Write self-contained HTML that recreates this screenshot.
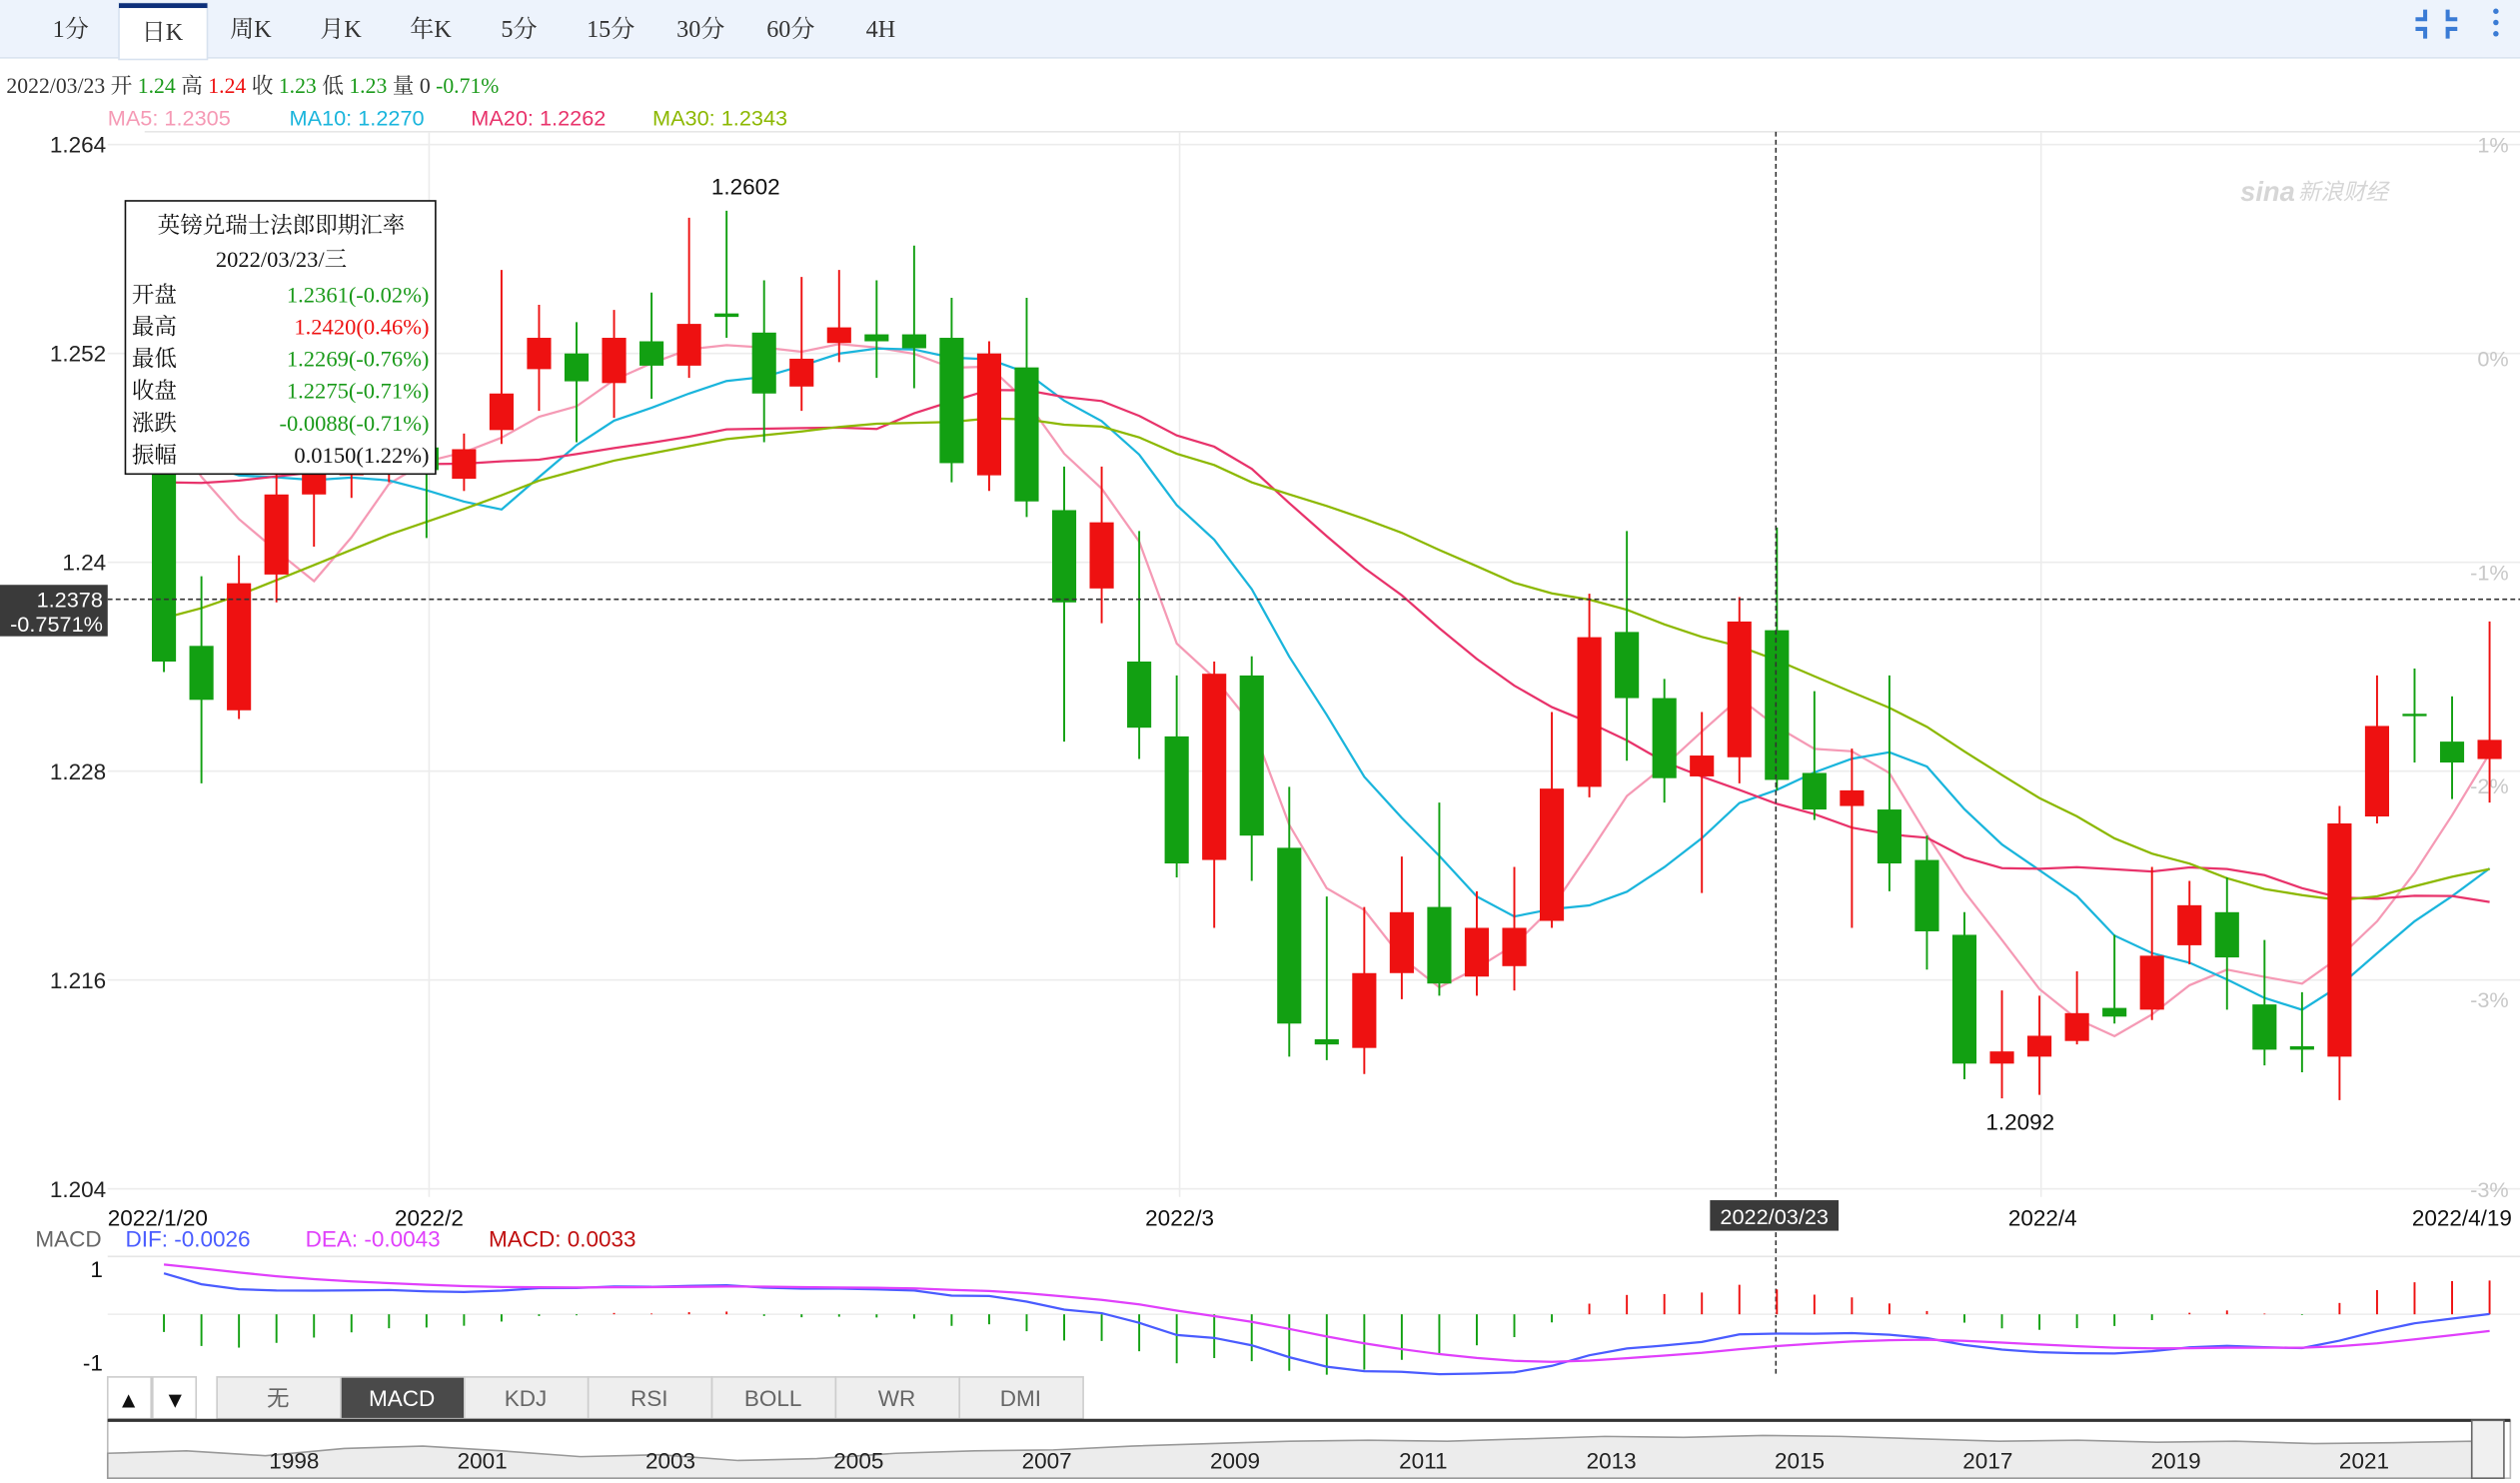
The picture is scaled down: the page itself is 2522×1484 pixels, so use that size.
<!DOCTYPE html>
<html><head><meta charset="utf-8"><style>
html,body{margin:0;padding:0;background:#fff;overflow:hidden}
svg{display:block}
text{font-family:"Liberation Sans","Noto Sans CJK SC",sans-serif}
.serif{font-family:"Liberation Serif","Noto Serif CJK SC","Noto Sans CJK SC",serif}
</style></head><body>
<svg id="chart" width="2522" height="1484" viewBox="0 0 1568 923" preserveAspectRatio="none" xmlns="http://www.w3.org/2000/svg">
<rect x="0" y="0" width="1568" height="923" fill="#fff"/>
<g>
<rect x="0" y="0" width="1568" height="36" fill="#edf3fc"/>
<line x1="0" y1="36" x2="1568" y2="36" stroke="#d8e2ef"/>
<rect x="74" y="2" width="55" height="35" fill="#fff" stroke="#d8e2ef"/>
<rect x="74" y="2" width="55" height="3" fill="#0c2f7a"/>
<g class="serif" font-size="15" fill="#333" text-anchor="middle">
<text x="44" y="23" class="serif">1分</text>
<text x="101" y="25" class="serif">日K</text>
<text x="156" y="23" class="serif">周K</text>
<text x="212" y="23" class="serif">月K</text>
<text x="268" y="23" class="serif">年K</text>
<text x="323" y="23" class="serif">5分</text>
<text x="380" y="23" class="serif">15分</text>
<text x="436" y="23" class="serif">30分</text>
<text x="492" y="23" class="serif">60分</text>
<text x="548" y="23" class="serif">4H</text>
</g>
<g stroke="#3a7bd5" stroke-width="2.5" fill="none">
<path d="M1509 6 v6 h-6 M1523 6 v6 h6 M1509 24 v-6 h-6 M1523 24 v-6 h6"/>
</g>
<g fill="#3a7bd5"><circle cx="1553" cy="7" r="1.7"/><circle cx="1553" cy="14" r="1.7"/><circle cx="1553" cy="21" r="1.7"/></g>
</g>
<text x="4" y="58" font-size="13.5" fill="#333" class="serif">2022/03/23 开 <tspan fill="#1a9a1a">1.24</tspan> 高 <tspan fill="#ee1111">1.24</tspan> 收 <tspan fill="#1a9a1a">1.23</tspan> 低 <tspan fill="#1a9a1a">1.23</tspan> 量 0 <tspan fill="#1a9a1a">-0.71%</tspan></text>
<g font-size="13.5">
<text x="67" y="78" fill="#f59ab5">MA5: 1.2305</text>
<text x="180" y="78" fill="#1ab5dc">MA10: 1.2270</text>
<text x="293" y="78" fill="#e8336b">MA20: 1.2262</text>
<text x="406" y="78" fill="#8cb800">MA30: 1.2343</text>
</g>
<line x1="90" y1="82" x2="1568" y2="82" stroke="#e6e6e6"/>
<g id="grid"></g>
<g id="yaxis"></g>
<g id="pctaxis"></g>
<g fill="#d6d6d6">
<text x="1394" y="125" font-size="17" font-style="italic" font-weight="bold">sina</text>
<text x="1430" y="124" font-size="14" font-style="italic">新浪财经</text>
</g>
<g id="mas"></g>
<g id="candles"></g>
<text x="464" y="121" font-size="14" fill="#111" text-anchor="middle">1.2602</text>
<text x="1257" y="703" font-size="14" fill="#111" text-anchor="middle">1.2092</text>
<g>
<line x1="67" y1="373" x2="1568" y2="373" stroke="#333" stroke-dasharray="3,2"/>
<line x1="1105" y1="82" x2="1105" y2="856" stroke="#333" stroke-dasharray="3,2"/>
<rect x="0" y="364" width="67" height="32" fill="#3a3a3a"/>
<text x="64" y="378" font-size="13.5" fill="#fff" text-anchor="end">1.2378</text>
<text x="64" y="393" font-size="13.5" fill="#fff" text-anchor="end">-0.7571%</text>
<rect x="1064" y="747" width="80" height="19" fill="#3a3a3a"/>
<text x="1104" y="762" font-size="13.5" fill="#fff" text-anchor="middle">2022/03/23</text>
</g>
<g class="serif" font-size="14">
<rect x="78" y="125" width="193" height="170" fill="#fff" stroke="#111"/>
<text x="175" y="145" text-anchor="middle" fill="#111" class="serif">英镑兑瑞士法郎即期汇率</text>
<text x="175" y="166" text-anchor="middle" fill="#111" class="serif">2022/03/23/三</text>
<text x="82" y="188" fill="#111" class="serif">开盘</text><text x="267" y="188" text-anchor="end" fill="#1a9a1a" class="serif">1.2361(-0.02%)</text>
<text x="82" y="208" fill="#111" class="serif">最高</text><text x="267" y="208" text-anchor="end" fill="#ee1111" class="serif">1.2420(0.46%)</text>
<text x="82" y="228" fill="#111" class="serif">最低</text><text x="267" y="228" text-anchor="end" fill="#1a9a1a" class="serif">1.2269(-0.76%)</text>
<text x="82" y="248" fill="#111" class="serif">收盘</text><text x="267" y="248" text-anchor="end" fill="#1a9a1a" class="serif">1.2275(-0.71%)</text>
<text x="82" y="268" fill="#111" class="serif">涨跌</text><text x="267" y="268" text-anchor="end" fill="#1a9a1a" class="serif">-0.0088(-0.71%)</text>
<text x="82" y="288" fill="#111" class="serif">振幅</text><text x="267" y="288" text-anchor="end" fill="#111" class="serif">0.0150(1.22%)</text>
</g>
<g font-size="14" fill="#111">
<text x="67" y="763">2022/1/20</text>
<text x="267" y="763" text-anchor="middle">2022/2</text>
<text x="734" y="763" text-anchor="middle">2022/3</text>
<text x="1271" y="763" text-anchor="middle">2022/4</text>
<text x="1563" y="763" text-anchor="end">2022/4/19</text>
</g>
<g font-size="14">
<text x="22" y="776" fill="#666">MACD</text>
<text x="78" y="776" fill="#4a5cff">DIF: -0.0026</text>
<text x="190" y="776" fill="#e040fb">DEA: -0.0043</text>
<text x="304" y="776" fill="#c01010">MACD: 0.0033</text>
</g>
<line x1="67" y1="782" x2="1568" y2="782" stroke="#e6e6e6"/>
<line x1="67" y1="818" x2="1568" y2="818" stroke="#eee"/>
<text x="64" y="795" font-size="14" fill="#111" text-anchor="end">1</text>
<text x="64" y="853" font-size="14" fill="#111" text-anchor="end">-1</text>
<g id="macd"></g>
<g class="serif" font-size="14">
<rect x="67" y="857" width="1501" height="26" fill="#fff"/>
<rect x="67" y="857" width="27" height="26" fill="#fff" stroke="#ccc"/>
<text x="80" y="876" text-anchor="middle" fill="#111">▲</text>
<rect x="95" y="857" width="27" height="26" fill="#fff" stroke="#ccc"/>
<text x="109" y="876" text-anchor="middle" fill="#111">▼</text>
<rect x="135" y="857" width="77" height="26" fill="#eee" stroke="#ccc"/><text x="173" y="875" text-anchor="middle" fill="#666">无</text>
<rect x="212" y="857" width="77" height="26" fill="#4a4a4a" stroke="#ccc"/><text x="250" y="875" text-anchor="middle" fill="#fff">MACD</text>
<rect x="289" y="857" width="77" height="26" fill="#eee" stroke="#ccc"/><text x="327" y="875" text-anchor="middle" fill="#666">KDJ</text>
<rect x="366" y="857" width="77" height="26" fill="#eee" stroke="#ccc"/><text x="404" y="875" text-anchor="middle" fill="#666">RSI</text>
<rect x="443" y="857" width="77" height="26" fill="#eee" stroke="#ccc"/><text x="481" y="875" text-anchor="middle" fill="#666">BOLL</text>
<rect x="520" y="857" width="77" height="26" fill="#eee" stroke="#ccc"/><text x="558" y="875" text-anchor="middle" fill="#666">WR</text>
<rect x="597" y="857" width="77" height="26" fill="#eee" stroke="#ccc"/><text x="635" y="875" text-anchor="middle" fill="#666">DMI</text>
</g>
<g>
<rect x="67" y="884" width="1495" height="36" fill="#fff" stroke="#bbb"/>
<line x1="67" y1="884" x2="1562" y2="884" stroke="#333" stroke-width="2"/>
<path id="navpath" fill="#ececec" stroke="#999" stroke-width="1"/>
<rect x="1538" y="884" width="20" height="36" fill="#f0f0f0" stroke="#666"/>
<g font-size="14" fill="#222" text-anchor="middle" id="navyears"></g>
</g>
</svg>
<script>
var preCloses = [1.2150,1.2165,1.2180,1.2195,1.2205,1.2215,1.2230,1.2245,1.2260,1.2275,
 1.2330,1.2360,1.2390,1.2410,1.2420,1.2430,1.2450,1.2460,1.2470,1.2510,
 1.2440,1.2460,1.2450,1.2470,1.2455,1.2490,1.2510,1.2530,1.2542];
var opens = [1.2455,1.2352,1.2315,1.2393,1.2439,1.2450,1.2460,1.2466,1.2448,1.2476,1.2511,1.2520,1.2503,1.2527,1.2513,1.2543,1.2532,1.2501,1.2526,1.2531,1.2531,1.2529,1.2450,1.2512,1.2430,1.2385,1.2343,1.2300,1.2229,1.2335,1.2236,1.2126,1.2121,1.2164,1.2202,1.2162,1.2168,1.2194,1.2271,1.2360,1.2322,1.2277,1.2288,1.2361,1.2279,1.2260,1.2258,1.2229,1.2186,1.2112,1.2116,1.2125,1.2144,1.2143,1.2180,1.2199,1.2146,1.2122,1.2116,1.2254,1.2313,1.2297,1.2287];
var highs = [1.2487,1.2392,1.2404,1.2455,1.2469,1.2481,1.2485,1.2476,1.2474,1.2568,1.2548,1.2538,1.2545,1.2555,1.2598,1.2602,1.2562,1.2564,1.2568,1.2562,1.2582,1.2552,1.2527,1.2552,1.2455,1.2455,1.2418,1.2335,1.2343,1.2346,1.2271,1.2208,1.2202,1.2231,1.2262,1.2211,1.2225,1.2314,1.2382,1.2418,1.2333,1.2314,1.2380,1.2420,1.2326,1.2293,1.2335,1.2243,1.2199,1.2154,1.2151,1.2165,1.2186,1.2225,1.2217,1.2219,1.2183,1.2153,1.2260,1.2335,1.2339,1.2323,1.2366];
var lows = [1.2337,1.2273,1.2310,1.2377,1.2409,1.2437,1.2446,1.2414,1.2441,1.2468,1.2487,1.2469,1.2483,1.2494,1.2506,1.2529,1.2469,1.2487,1.2515,1.2506,1.2500,1.2446,1.2441,1.2426,1.2297,1.2365,1.2287,1.2219,1.2190,1.2217,1.2116,1.2114,1.2106,1.2149,1.2151,1.2151,1.2154,1.2190,1.2265,1.2286,1.2262,1.2210,1.2273,1.2269,1.2252,1.2190,1.2211,1.2166,1.2103,1.2092,1.2094,1.2123,1.2135,1.2137,1.2169,1.2143,1.2111,1.2107,1.2091,1.2250,1.2285,1.2264,1.2262];
var closes = [1.2343,1.2321,1.2388,1.2439,1.2455,1.2469,1.2474,1.2453,1.2465,1.2497,1.2529,1.2504,1.2529,1.2513,1.2537,1.2541,1.2497,1.2517,1.2535,1.2527,1.2523,1.2457,1.2520,1.2435,1.2377,1.2423,1.2305,1.2227,1.2336,1.2243,1.2135,1.2123,1.2164,1.2199,1.2158,1.2190,1.2190,1.2270,1.2357,1.2322,1.2276,1.2289,1.2366,1.2275,1.2258,1.2269,1.2227,1.2188,1.2112,1.2119,1.2128,1.2141,1.2139,1.2174,1.2203,1.2173,1.2120,1.2120,1.2250,1.2306,1.2312,1.2285,1.2298];
var priceTicks = [1.264,1.252,1.24,1.228,1.216,1.204];
var pctTicks = ["1%","0%","-1%","-2%","-3%"];
var navYears = ["1998","2001","2003","2005","2007","2009","2011","2013","2015","2017","2019","2021"];
var navValues = [0.55,0.5,0.6,0.45,0.4,0.5,0.62,0.58,0.7,0.66,0.55,0.5,0.48,0.4,0.35,0.3,0.28,0.3,0.25,0.2,0.22,0.18,0.2,0.25,0.3,0.28,0.32,0.3,0.35,0.33,0.3];

var NS="http://www.w3.org/2000/svg";
function el(tag, attrs, parent){var e=document.createElementNS(NS,tag);for(var k in attrs)e.setAttribute(k,attrs[k]);parent.appendChild(e);return e;}
function yP(v){return 90+(1.264-v)*10833;}
function xI(i){return 102+i*23.34;}
var MZ=818, MK=4600;
function yM(v){return MZ-v*MK;}

var grid=document.getElementById('grid');
[267,734,1270].forEach(function(x){var l=el('line',{x1:x,y1:82,x2:x,y2:745,stroke:'#ececec'},grid);

});
var ya=document.getElementById('yaxis');
priceTicks.forEach(function(v){
 var y=yP(v);
 var g=el('line',{x1:67,y1:y,x2:1568,y2:y,stroke:'#ececec'},grid);
 
 
 var t=el('text',{x:66,y:y+5,'font-size':14,fill:'#222','text-anchor':'end'},ya);t.textContent=String(v);
 
 
});
var pa=document.getElementById('pctaxis');
pctTicks.forEach(function(s,i){
 var t=el('text',{x:1561,y:95+i*133,'font-size':13.5,fill:'#c8c8c8','text-anchor':'end'},pa);t.textContent=s;
 
 
});
var tl=el('text',{x:1561,y:745,'font-size':13.5,fill:'#c8c8c8','text-anchor':'end'},pa);tl.textContent="-3%";



var all=preCloses.concat(closes), P=preCloses.length;
function ma(n){var out=[];for(var i=0;i<closes.length;i++){var s=0;for(var j=0;j<n;j++)s+=all[P+i-j];out.push(s/n);}return out;}
var mg=document.getElementById('mas');
[[5,'#f59ab5','ma5-line'],[10,'#1ab5dc','ma10-line'],[20,'#e8336b','ma20-line'],[30,'#8cb800','ma30-line']].forEach(function(c){
 var m=ma(c[0]);var d=m.map(function(v,i){return (i?'L':'M')+xI(i).toFixed(1)+' '+yP(v).toFixed(1);}).join(' ');
 var p=el('path',{d:d,fill:'none',stroke:c[1],'stroke-width':1.4},mg);
 
 
});

var cg=document.getElementById('candles');
for(var i=0;i<closes.length;i++){
 var up=closes[i]>=opens[i], col=up?'#ee1111':'#12a012', cx=xI(i);
 var w=el('line',{x1:cx,y1:yP(highs[i]),x2:cx,y2:yP(lows[i]),stroke:col,'stroke-width':1.2},cg);
 
 
 var yt=yP(Math.max(opens[i],closes[i])), yb=yP(Math.min(opens[i],closes[i]));
 var r=el('rect',{x:cx-7.5,y:yt,width:15,height:Math.max(1.5,yb-yt),fill:col},cg);
 
 
}

function ema(arr,n){var k=2/(n+1),o=[arr[0]];for(var i=1;i<arr.length;i++)o.push(arr[i]*k+o[i-1]*(1-k));return o;}
var e12=ema(all,12), e26=ema(all,26);
var dif=all.map(function(v,i){return e12[i]-e26[i];});
var dea=ema(dif,9);
var mgp=document.getElementById('macd');
for(var i=0;i<closes.length;i++){
 var h=2*(dif[P+i]-dea[P+i]), bx=xI(i);
 var b=el('line',{x1:bx,y1:MZ,x2:bx,y2:yM(h),stroke:h>=0?'#ee1111':'#12a012','stroke-width':1.2},mgp);
 
 
}
function mline(arr,col,name){var d='';for(var i=0;i<closes.length;i++){d+=(i?'L':'M')+xI(i).toFixed(1)+' '+yM(arr[P+i]).toFixed(1)+' ';}
 var p=el('path',{d:d,fill:'none',stroke:col,'stroke-width':1.4},mgp);
 
 }
mline(dif,'#4a5cff','dif-line');mline(dea,'#e040fb','dea-line');

var nd='M67 920 ';navValues.forEach(function(v,i){nd+='L'+(67+i*1471/(navValues.length-1)).toFixed(1)+' '+(888+v*30).toFixed(1)+' ';});nd+='L1538 920 Z';
document.getElementById('navpath').setAttribute('d',nd);
var ny=document.getElementById('navyears');
navYears.forEach(function(s,i){var t=el('text',{x:183+i*(1471-183)/11,y:914},ny);t.textContent=s;
 
 });
</script>
</body></html>
